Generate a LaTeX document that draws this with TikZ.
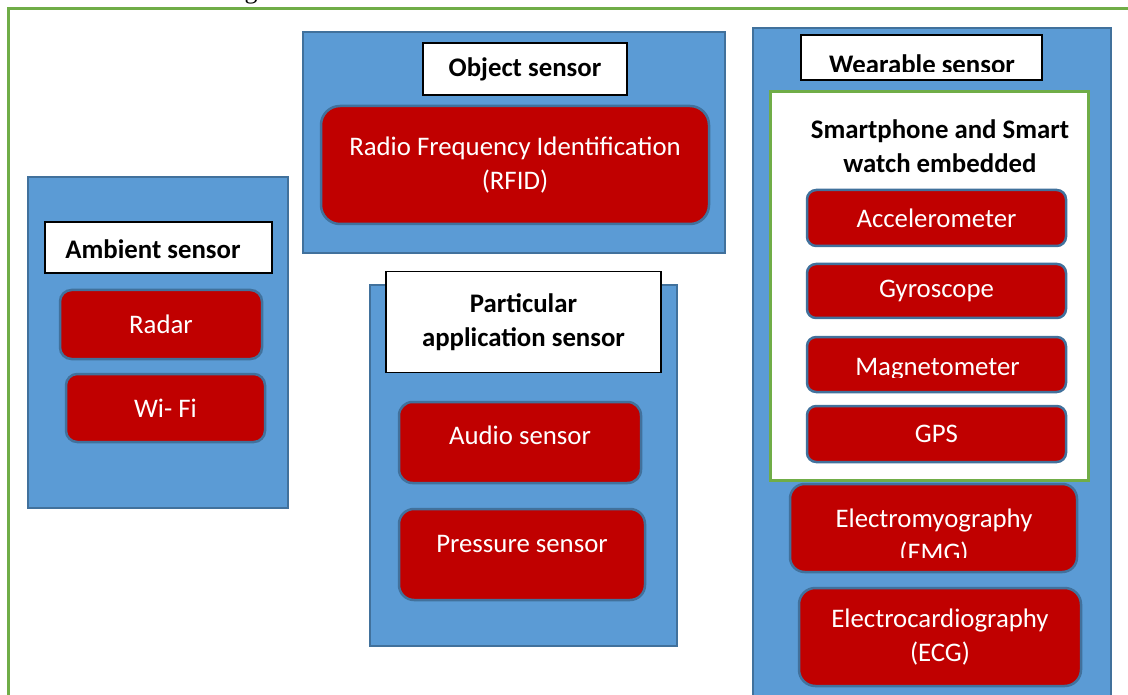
\documentclass[tikz,border=0pt]{standalone}
\usepackage{fontspec}
\setmainfont{Carlito}
\newfontfamily\capfont{Liberation Serif}
\usepackage{tikz}
\definecolor{panel_blue}{RGB}{91, 155, 213}
\definecolor{panel_edge}{RGB}{65, 113, 156}
\definecolor{sensor_red}{RGB}{192, 0, 0}
\definecolor{frame_green}{RGB}{112, 173, 71}
\newcommand{\boxfont}{\fontsize{26.8}{34.5}\selectfont}
\tikzstyle{panel}=[rectangle,fill=panel_blue,draw=panel_edge,
  line width=2pt,inner sep=0pt]
\tikzstyle{title}=[rectangle,fill=white,draw=black,line width=1.5pt,
  font=\boxfont\bfseries,align=center,inner sep=0pt]
\tikzstyle{rbox}=[rectangle,fill=sensor_red,draw=panel_edge,line width=2.5pt,
  text=white,font=\boxfont,align=center,inner sep=0pt]
\tikzstyle{none}=[]

\begin{document}
\begin{tikzpicture}[x=1pt,y=-1pt]
    \useasboundingbox (0,0) rectangle (1128,695);
    \clip (0,0) rectangle (1128,695);
    % caption line above and frame
    \node [style=none,font=\capfont\fontsize{26}{26}\selectfont,anchor=base] (0) at (251,-1.5) {g};
    \draw [frame_green,line width=3pt] (8,9) rectangle (1160,730);
    % ambient sensor
    \node [style=panel,minimum width=260,minimum height=331] (1) at (158,342.5) {};
    \node [style=title,minimum width=227,minimum height=51] (2) at (158.5,247.5) {};
    \node [style=none,font=\boxfont\bfseries] (25) at (153,249) {Ambient sensor};
    \node [style=rbox,rounded corners=11.5pt,minimum width=202,minimum height=69] (3) at (161,324.5) {Radar};
    \node [style=rbox,rounded corners=11.3pt,minimum width=199,minimum height=68] (4) at (165.5,408) {Wi- Fi};
    % object sensor
    \node [style=panel,minimum width=422,minimum height=221] (5) at (514,142.5) {};
    \node [style=title,minimum width=204,minimum height=52] (6) at (525,69) {Object sensor};
    \node [style=rbox,rounded corners=19pt,minimum width=388,minimum height=118] (7) at (515,165) {Radio Frequency Identification\\(RFID)};
    % particular application sensor
    \node [style=panel,minimum width=307,minimum height=361] (8) at (523.5,465.5) {};
    \node [style=title,minimum width=275,minimum height=101] (9) at (523.5,322) {Particular\\application sensor};
    \node [style=rbox,rounded corners=13.5pt,minimum width=242,minimum height=81,text depth=14pt] (10) at (520,442.5) {Audio sensor};
    \node [style=rbox,rounded corners=15pt,minimum width=246,minimum height=91,text depth=22pt] (11) at (522,554.5) {Pressure sensor};
    % wearable sensor
    \node [style=panel,minimum width=358,minimum height=720,anchor=north west] (12) at (752,27) {};
    \node [style=title,minimum width=241,minimum height=45] (13) at (921.5,57.5) {};
    \begin{scope}
        \clip (801,35) rectangle (1042,72);
        \node [style=none,font=\boxfont\bfseries,anchor=base] (14) at (922,74) {Wearable sensor};
    \end{scope}
    \node [draw=frame_green,fill=white,line width=3pt,minimum width=318,minimum height=388] (15) at (929,286) {};
    \node [style=none,font=\boxfont\bfseries,align=center] (16) at (940,146) {Smartphone and Smart\\watch embedded};
    \node [style=rbox,rounded corners=9.3pt,minimum width=259,minimum height=56] (17) at (936.5,218) {Accelerometer};
    \node [style=rbox,rounded corners=9pt,minimum width=259,minimum height=54] (18) at (936.5,291) {Gyroscope};
    \node [style=rbox,rounded corners=9.2pt,minimum width=259,minimum height=55] (19) at (936.5,364.5) {};
    \begin{scope}
        \clip (807,337) rectangle (1066,377);
        \node [style=none,text=white,font=\boxfont,anchor=base] (20) at (937.5,375) {Magnetometer};
    \end{scope}
    \node [style=rbox,rounded corners=9.3pt,minimum width=259,minimum height=56] (21) at (936.5,434) {GPS};
    \node [style=rbox,rounded corners=14.7pt,minimum width=287,minimum height=88] (22) at (933.5,528) {};
    \begin{scope}
        \clip (790,484) rectangle (1077,557);
        \node [style=none,text=white,font=\boxfont,align=center] (23) at (934,537) {Electromyography\\(EMG)};
    \end{scope}
    \node [style=rbox,rounded corners=16.3pt,minimum width=282,minimum height=98] (24) at (940,637) {Electrocardiography\\(ECG)};
\end{tikzpicture}
\end{document}
